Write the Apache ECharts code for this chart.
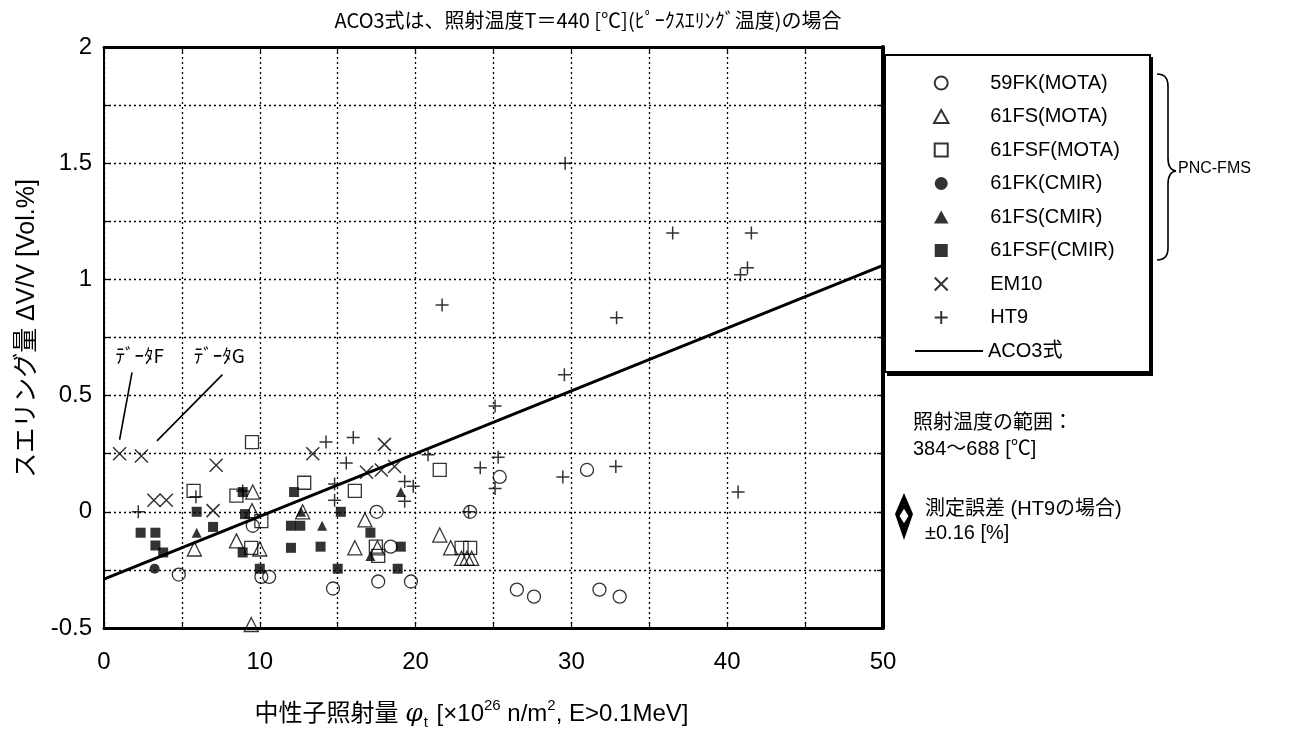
<!DOCTYPE html>
<html><head><meta charset="utf-8">
<script src="https://cdn.jsdelivr.net/npm/echarts@6/dist/echarts.min.js"></script>
<style>html,body{margin:0;padding:0;background:#fff}#c{width:1294px;height:735px}</style>
</head><body><div id="c"></div>
<script>
// ---- data ----
const s59FK_MOTA = [[9.55,-0.06],[4.8,-0.27],[10.1,-0.28],[10.6,-0.28],[17.5,0.0],[18.4,-0.15],[14.7,-0.33],[17.6,-0.30],[19.7,-0.30],[23.5,0.0],[25.4,0.15],[31.0,0.18],[26.5,-0.335],[27.6,-0.365],[31.8,-0.335],[33.1,-0.365]];
const s61FS_MOTA = [[9.55,0.085],[5.8,-0.16],[8.5,-0.125],[10.0,-0.16],[9.45,-0.485],[9.5,0.005],[12.75,0.0],[16.75,-0.035],[16.1,-0.155],[17.55,-0.155],[21.55,-0.1],[22.25,-0.155],[22.95,-0.2],[23.3,-0.2],[23.6,-0.2]];
const s61FSF_MOTA = [[9.5,0.3],[5.75,0.09],[8.5,0.07],[10.1,-0.04],[9.45,-0.155],[12.85,0.125],[16.1,0.09],[21.55,0.18],[17.45,-0.15],[17.6,-0.19],[22.95,-0.155],[23.5,-0.155]];
const s61FK_CMIR = [[3.25,-0.245]];
const s61FS_CMIR = [[5.95,-0.09],[12.65,0.0],[14.0,-0.06],[19.05,0.085],[17.1,-0.19]];
const s61FSF_CMIR = [[2.35,-0.09],[3.3,-0.09],[3.3,-0.145],[3.8,-0.175],[5.95,0.0],[7.0,-0.065],[8.9,0.085],[9.05,-0.01],[8.9,-0.175],[10.0,-0.245],[12.2,0.085],[12.0,-0.06],[12.6,-0.06],[12.0,-0.155],[13.9,-0.15],[15.2,0.0],[17.1,-0.09],[19.05,-0.15],[15.0,-0.245],[18.85,-0.245]];
const sEM10 = [[1.0,0.25],[2.4,0.24],[7.2,0.2],[3.2,0.05],[4.0,0.05],[7.0,0.005],[13.4,0.25],[18.0,0.29],[16.85,0.17],[17.8,0.18],[18.65,0.195]];
const sHT9 = [[2.2,0.0],[5.9,0.065],[8.9,0.09],[14.25,0.3],[16.0,0.32],[15.55,0.21],[14.8,0.12],[14.8,0.05],[19.3,0.13],[19.85,0.11],[19.3,0.045],[20.8,0.245],[24.15,0.19],[23.4,0.0],[21.7,0.89],[29.6,1.5],[36.5,1.2],[32.9,0.835],[29.55,0.59],[25.1,0.455],[25.3,0.235],[25.1,0.1],[29.45,0.15],[32.85,0.195],[41.55,1.2],[41.3,1.05],[40.85,1.02],[40.7,0.085]];
const aco3X = [0,10,20,30,40,50];
const aco3Y = [-0.29,-0.02,0.25,0.52,0.79,1.06];
const annotText = ['ﾃﾞｰﾀF','ﾃﾞｰﾀG'];
const annotTextPos = [[2.3,0.67],[7.4,0.67]];
const annotArrowFrom = [[1.8,0.6],[7.6,0.59]];
const annotArrowTo = [[1.0,0.31],[3.4,0.305]];
const seriesNames = ['59FK(MOTA)','61FS(MOTA)','61FSF(MOTA)','61FK(CMIR)','61FS(CMIR)','61FSF(CMIR)','EM10','HT9'];
const lineName = 'ACO3式';
const titleText = 'ACO3式は、照射温度T＝440 [℃](ﾋﾟｰｸｽｴﾘﾝｸﾞ温度)の場合';

const FONT = '"Liberation Sans", Arial, "Noto Sans CJK JP", sans-serif';
const JFONT = '"Liberation Sans", "Noto Sans CJK JP", sans-serif';
const XPATH = 'path://M0,0L10,10M10,0L0,10';
const PPATH = 'path://M5,0L5,10M0,5L10,5';
const CIRC = 'path://M0,5A5,5,0,1,1,10,5A5,5,0,1,1,0,5Z';
const TRI = 'path://M5,0L10,9L0,9Z';
const SQR = 'path://M0,0L10,0L10,10L0,10Z';
const legendIcons = [CIRC, TRI, SQR, CIRC, TRI, SQR, XPATH, PPATH];

const open = {color:'rgba(255,255,255,0)', borderColor:'#000', borderWidth:1.3};
const filled = {color:'#000', borderColor:'#000', borderWidth:0};
const strokeOnly = {color:'rgba(255,255,255,0)', borderColor:'#000', borderWidth:1.5};

function sc(name, data, symbol, size, style){
  return {type:'scatter', name, data, symbol, symbolSize:size, itemStyle:style, z:3, emphasis:{disabled:true}};
}

const chart = echarts.init(document.getElementById('c'), null, {renderer:'canvas'});
const series = [
  sc(seriesNames[0], s59FK_MOTA, 'circle', 13, open),
  sc(seriesNames[1], s61FS_MOTA, 'triangle', 14, open),
  sc(seriesNames[2], s61FSF_MOTA, 'rect', 13, open),
  sc(seriesNames[3], s61FK_CMIR, 'circle', 10, filled),
  sc(seriesNames[4], s61FS_CMIR, 'triangle', 10, filled),
  sc(seriesNames[5], s61FSF_CMIR, 'rect', 10, filled),
  sc(seriesNames[6], sEM10, XPATH, 13, strokeOnly),
  sc(seriesNames[7], sHT9, PPATH, 13, strokeOnly),
  {type:'line', name:lineName, data:aco3X.map((x,i)=>[x,aco3Y[i]]), symbol:'none', showSymbol:false,
   itemStyle:{color:'#000'}, lineStyle:{color:'#000', width:3}, z:4, emphasis:{disabled:true}},
  {type:'scatter', name:'annot', data:[], silent:true,
   markLine:{silent:true, symbol:['none','arrow'], symbolSize:[0,[14,22]], precision:4,
     lineStyle:{color:'#000', width:1.6, type:'solid'}, label:{show:false},
     data: annotArrowFrom.map((f,i)=>[{coord:f},{coord:annotArrowTo[i]}])},
   markPoint:{silent:true, symbol:'rect', symbolSize:1, itemStyle:{color:'rgba(0,0,0,0)'},
     label:{show:true, position:'inside', color:'#000', fontSize:19, fontFamily:'"Noto Sans CJK JP", sans-serif', formatter:p=>p.name},
     data: annotTextPos.map((p,i)=>({coord:p, name:annotText[i]}))}}
];

const braceStyle = {stroke:'#000', lineWidth:1.6, fill:null};
const option = {
  backgroundColor:'#fff',
  animation:false,
  grid:{left:104, top:47, width:779, height:581, show:false, containLabel:false, outerBoundsMode:'none'},
  title:{text:titleText, left:583, top:5, textAlign:'center',
    textStyle:{fontSize:20, fontWeight:'normal', color:'#000', fontFamily:'"Noto Sans CJK JP", sans-serif'}},
  legend:[
    {data:seriesNames.map((n,i)=>({name:n, icon:legendIcons[i]})), orient:'vertical', left:928, top:68,
     itemWidth:88, itemHeight:13, itemGap:13.5, symbolKeepAspect:true,
     textStyle:{fontSize:20, lineHeight:20, color:'#000', fontFamily:FONT}, selectedMode:false},
    {data:[lineName], orient:'vertical', left:909, top:336, itemWidth:68, itemHeight:13,
     itemStyle:{opacity:0}, lineStyle:{color:'#000', width:2, opacity:1},
     textStyle:{fontSize:20, lineHeight:20, color:'#000', fontFamily:JFONT}, selectedMode:false}
  ],
  xAxis:[
    {type:'value', min:0, max:50, interval:5, position:'bottom',
     axisLine:{show:true, onZero:false, lineStyle:{color:'#000', width:3}},
     axisTick:{show:true, inside:true, length:6, lineStyle:{color:'#000', width:1.2}},
     axisLabel:{fontSize:24, color:'#000', fontFamily:FONT, margin:22, formatter:v=>(v%10===0?String(v):'')},
     splitLine:{show:true, lineStyle:{color:'#000', width:1.3, type:[2,3]}},
     name:'{n|中性子照射量 }{phi|φ}{sub|t}{n| [×10}{sup|26}{n| n/m}{sup|2}{n|, E>0.1MeV]}',
     nameLocation:'middle', nameGap:70,
     nameTextStyle:{padding:[0,44,0,0], rich:{
       n:{fontSize:24, color:'#000', fontFamily:JFONT, lineHeight:32, verticalAlign:'middle'},
       phi:{fontSize:25, color:'#000', fontFamily:'"DejaVu Serif", serif', fontStyle:'italic', lineHeight:32, verticalAlign:'middle'},
       sub:{fontSize:15, color:'#000', fontFamily:FONT, lineHeight:32, verticalAlign:'bottom', padding:[0,2,0,1]},
       sup:{fontSize:15, color:'#000', fontFamily:FONT, lineHeight:32, verticalAlign:'top'}
     }}},
    {type:'value', min:0, max:50, interval:5, position:'top',
     axisLine:{show:true, onZero:false, lineStyle:{color:'#000', width:3}},
     axisTick:{show:true, inside:true, length:6, lineStyle:{color:'#000', width:1.2}},
     axisLabel:{show:false}, splitLine:{show:false}}
  ],
  yAxis:[
    {type:'value', min:-0.5, max:2, interval:0.25, position:'left',
     axisLine:{show:true, onZero:false, lineStyle:{color:'#000', width:2}},
     axisTick:{show:true, inside:true, length:6, lineStyle:{color:'#000', width:1.2}},
     axisLabel:{fontSize:24, color:'#000', fontFamily:FONT, margin:12,
       formatter:v=>(Math.abs(v*2-Math.round(v*2))<1e-6?String(Math.round(v*100)/100):'')},
     splitLine:{show:true, lineStyle:{color:'#000', width:1.3, type:[2,3]}},
     name:'スエリング量 ΔV/V [Vol.%]', nameLocation:'middle', nameGap:60,
     nameTextStyle:{fontSize:25, color:'#000', fontFamily:JFONT, padding:[0,0,0,18]}},
    {type:'value', min:-0.5, max:2, interval:0.25, position:'right',
     axisLine:{show:true, onZero:false, lineStyle:{color:'#000', width:4}},
     axisTick:{show:true, inside:true, length:6, lineStyle:{color:'#000', width:1.2}},
     axisLabel:{show:false}, splitLine:{show:false}}
  ],
  graphic:[
    {type:'rect', shape:{x:885, y:55, width:265, height:317}, style:{fill:'rgba(0,0,0,0)', stroke:'#000', lineWidth:2}, z:1},
    {type:'polyline', shape:{points:[[1151,57],[1151,374],[887,374]]}, style:{stroke:'#000', lineWidth:4, fill:null}, z:1},
    {type:'bezierCurve', shape:{x1:1157,y1:74,cpx1:1168,cpy1:74,x2:1168,y2:86}, style:braceStyle},
    {type:'line', shape:{x1:1168,y1:86,x2:1168,y2:158}, style:braceStyle},
    {type:'bezierCurve', shape:{x1:1168,y1:158,cpx1:1168,cpy1:170,x2:1176,y2:171}, style:braceStyle},
    {type:'bezierCurve', shape:{x1:1176,y1:171,cpx1:1168,cpy1:172,x2:1168,y2:184}, style:braceStyle},
    {type:'line', shape:{x1:1168,y1:184,x2:1168,y2:248}, style:braceStyle},
    {type:'bezierCurve', shape:{x1:1168,y1:248,cpx1:1168,cpy1:260,x2:1157,y2:260}, style:braceStyle},
    {type:'text', left:1178, top:161, style:{text:'PNC-FMS', fill:'#000', font:'16px "Liberation Sans", Arial, sans-serif'}},
    {type:'text', left:913, top:410, style:{text:'照射温度の範囲：\n384～688 [℃]', fill:'#000', font:'20px "Liberation Sans", "Noto Sans CJK JP", sans-serif', lineHeight:26}},
    {type:'text', left:925, top:497, style:{text:'測定誤差 (HT9の場合)\n±0.16 [%]', fill:'#000', font:'20px "Liberation Sans", "Noto Sans CJK JP", sans-serif', lineHeight:24}},
    {type:'polygon', shape:{points:[[904,493],[913,514],[904,540],[895,514]]}, style:{fill:'#000'}},
    {type:'polygon', shape:{points:[[904,508],[909,516],[904,524],[899,516]]}, style:{fill:'#fff', stroke:'#000', lineWidth:1}}
  ],
  series
};
chart.setOption(option);
</script>
</body></html>
